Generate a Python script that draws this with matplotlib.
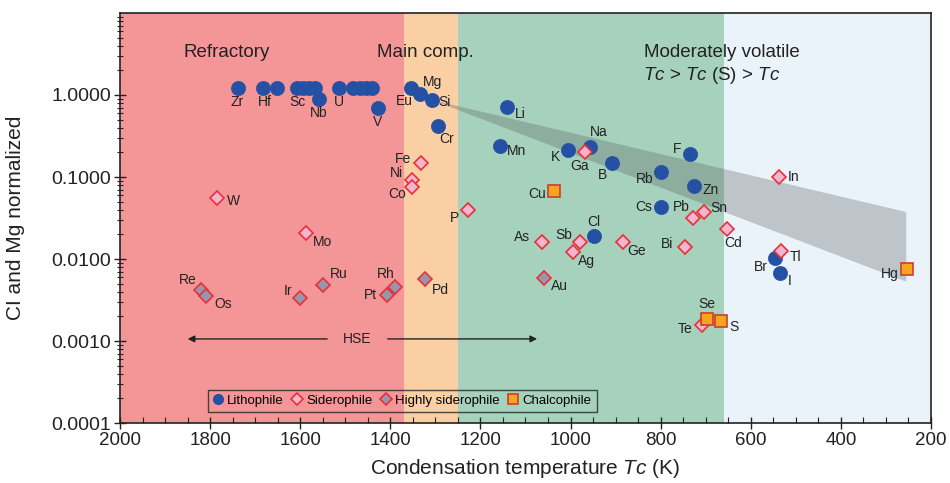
import matplotlib
matplotlib.use("Agg")
import matplotlib.pyplot as plt
from matplotlib.lines import Line2D
import numpy as np

plt.rcParams['font.family'] = ['Liberation Sans', 'DejaVu Sans']
plt.rcParams['mathtext.fontset'] = 'custom'
plt.rcParams['mathtext.it'] = 'Liberation Sans:italic'
plt.rcParams['mathtext.rm'] = 'Liberation Sans'

# ---------------- data ----------------
# Lithophile elements (blue circles)
litho_names = ['Zr', 'Hf', '', 'Sc', '', '', '', 'Nb', 'U', '', '', '', '', 'V',
               'Eu', 'Mg', 'Si', 'Cr', 'Li', 'Mn', 'K', 'Na', 'B', 'Rb', 'F', 'Zn',
               'Cs', 'Cl', 'Br', 'I']
litho_T = [1739, 1683, 1652, 1607, 1594, 1581, 1567, 1558, 1515, 1483, 1467, 1454, 1441, 1428,
           1354, 1334, 1308, 1295, 1142, 1157, 1005, 957, 907, 799, 735, 725,
           799, 947, 546, 535]
litho_v = [1.23, 1.23, 1.23, 1.23, 1.23, 1.23, 1.23, 0.894, 1.23, 1.23, 1.23, 1.23, 1.23, 0.69,
           1.23, 1.02, 0.87, 0.42, 0.72, 0.24, 0.211, 0.232, 0.149, 0.114, 0.191, 0.077,
           0.043, 0.0193, 0.0102, 0.0067]

# Siderophile elements (pink diamonds)
sidero_names = ['W', 'Mo', 'Fe', 'Ni', 'Co', 'P', 'Ga', 'As', 'Sb', 'Ag', 'Ge', 'Bi',
                'Pb', 'Sn', 'Cd', 'In', 'Tl', 'Te']
sidero_T = [1785, 1588, 1332, 1351, 1351, 1227, 968, 1064, 979, 995, 883, 746,
            728, 704, 652, 537, 532, 709]
sidero_v = [0.0548, 0.0206, 0.149, 0.0916, 0.076, 0.0393, 0.200, 0.0159, 0.0159, 0.0122, 0.0163, 0.0142,
            0.0314, 0.0375, 0.0231, 0.100, 0.0126, 0.00157]

# Highly siderophile elements (grey diamonds)
hse_names = ['Re', 'Os', 'Ir', 'Ru', 'Pt', 'Rh', 'Pd', 'Au']
hse_T = [1820, 1808, 1600, 1549, 1407, 1390, 1323, 1058]
hse_v = [0.00416, 0.0035, 0.0033, 0.0048, 0.0036, 0.0046, 0.0057, 0.0058]

# Chalcophile elements (orange squares)
chalco_names = ['Cu', 'Se', 'S', 'Hg']
chalco_T = [1037, 698, 665, 254]
chalco_v = [0.067, 0.00184, 0.00175, 0.0076]

# Temperature regions
region_edges = [2000, 1370, 1250, 660, 200]
region_colors = ['#F49598', '#FACFA3', '#A6D1BC', '#EAF3FA']
region_titles = ['Refractory', 'Main comp.', 'Moderately volatile']
region_title_T = [1763, 1321, 664]

# Volatility trend band (Tc, value)
band_T = [1308, 255, 255]
band_v = [0.87, 0.0374, 0.0053]

# HSE arrow extent
hse_arrow_T = [1856, 1068]
hse_arrow_v = 0.00106

# label offsets in pixels (dx, dy)
label_off = {
    'Zr': (0, -14), 'Hf': (2, -14), 'Sc': (0, -14), 'Nb': (0, -14), 'U': (0, -14), 'V': (0, -14),
    'Eu': (-7, -13), 'Mg': (12, 12), 'Si': (13, -2), 'Cr': (9, -13), 'Li': (14, -7),
    'Mn': (17, -5), 'K': (-13, -7), 'Na': (9, 15), 'Ga': (-5, -14), 'B': (-10, -12),
    'Rb': (-16, -7), 'F': (-13, 5), 'Zn': (16, -4), 'In': (14, 0), 'Cs': (-17, 0),
    'Pb': (-12, 11), 'Sn': (15, 4), 'Cd': (6, -14), 'Bi': (-18, 3), 'Tl': (14, -6),
    'Br': (-14, -9), 'I': (10, -8), 'Hg': (-17, -5), 'Cu': (-17, -3), 'P': (-14, -8),
    'Cl': (-1, 14), 'As': (-20, 5), 'Sb': (-16, 7), 'Ag': (14, -9), 'Ge': (13, -9),
    'Au': (15, -8), 'Se': (0, 15), 'S': (12, -6), 'Te': (-17, -4), 'W': (17, -3),
    'Mo': (17, -9), 'Re': (-13, 10), 'Os': (17, -8), 'Ir': (-12, 7), 'Ru': (16, 11),
    'Rh': (-9, 13), 'Pt': (-17, 0), 'Pd': (15, -11), 'Fe': (-18, 4), 'Ni': (-16, 7),
    'Co': (-15, -7),
}

# ---------------- styles ----------------
blue = '#2451A4'
red_edge = '#E8303A'
pink = '#F5B5CF'
grey = '#9896AA'
orange = '#F8A41F'
sq_edge = '#CC3F2A'
txt = '#222222'

fig = plt.figure(figsize=(9.5, 4.83), dpi=100)
ax = fig.add_axes([0.1263, 0.1242, 0.8537, 0.8489])

ax.set_xlim(2000, 200)
ax.set_yscale('log')
ax.set_ylim(1e-4, 10)

for i in range(len(region_colors)):
    ax.axvspan(region_edges[i], region_edges[i + 1], color=region_colors[i], zorder=0, lw=0)

ax.fill(band_T, band_v, color='#555A5E', alpha=0.3, lw=0, zorder=1)

ax.plot(litho_T, litho_v, 'o', ms=10.2, mfc=blue, mec=blue, mew=0.5, zorder=3, ls='none')
ax.plot(sidero_T, sidero_v, 'D', ms=7.4, mfc=pink, mec=red_edge, mew=1.2, zorder=4, ls='none')
ax.plot(hse_T, hse_v, 'D', ms=7.4, mfc=grey, mec=red_edge, mew=1.2, zorder=4, ls='none')
ax.plot(chalco_T, chalco_v, 's', ms=8.2, mfc=orange, mec=sq_edge, mew=1.2, zorder=5, ls='none')

for names, Ts, vs in [(litho_names, litho_T, litho_v), (sidero_names, sidero_T, sidero_v),
                      (hse_names, hse_T, hse_v), (chalco_names, chalco_T, chalco_v)]:
    for n, t, v in zip(names, Ts, vs):
        if not n:
            continue
        dx, dy = label_off.get(n, (0, -14))
        ax.annotate(n, (t, v), xytext=(dx, dy), textcoords='offset pixels',
                    ha='center', va='center', fontsize=10, color=txt, zorder=6)

# region titles
for title, t in zip(region_titles, region_title_T):
    ax.text(t, 3.32, title, ha='center', va='center', fontsize=13.5, color=txt, zorder=6)
ax.text(688, 1.72, r'$\mathit{Tc}$ > $\mathit{Tc}$ (S) > $\mathit{Tc}$', ha='center', va='center',
        fontsize=13.5, color=txt, zorder=6)

# HSE arrow
ax.annotate('', xy=(hse_arrow_T[0], hse_arrow_v), xytext=(1534, hse_arrow_v),
            arrowprops=dict(arrowstyle='-|>', color=txt, lw=1, mutation_scale=10), zorder=6)
ax.annotate('', xy=(hse_arrow_T[1], hse_arrow_v), xytext=(1412, hse_arrow_v),
            arrowprops=dict(arrowstyle='-|>', color=txt, lw=1, mutation_scale=10), zorder=6)
ax.text(1474, hse_arrow_v, 'HSE', ha='center', va='center', fontsize=10, color=txt, zorder=6)

# ticks
ax.set_xticks(np.arange(2000, 199, -200))
ax.set_xticks(np.arange(2000, 199, -50), minor=True)
ax.set_yticks([1e-4, 1e-3, 1e-2, 1e-1, 1])
ax.set_yticklabels(['0.0001', '0.0010', '0.0100', '0.1000', '1.0000'])
ax.tick_params(axis='x', which='major', direction='inout', length=9, width=1, labelsize=13.5, pad=2,
               colors=txt)
ax.tick_params(axis='x', which='minor', direction='in', length=4, width=0.8, colors=txt)
ax.tick_params(axis='y', which='major', direction='inout', length=9, width=1, labelsize=14, pad=2,
               colors=txt)
ax.tick_params(axis='y', which='minor', direction='inout', length=5, width=0.8, colors=txt)
ax.yaxis.set_minor_locator(matplotlib.ticker.LogLocator(base=10, subs=np.arange(2, 10)))
ax.yaxis.set_minor_formatter(matplotlib.ticker.NullFormatter())
for s in ax.spines.values():
    s.set_linewidth(1.2)
    s.set_color(txt)

ax.set_xlabel(r'Condensation temperature $\mathit{Tc}$ (K)', fontsize=15, labelpad=6, color=txt)
ax.set_ylabel('CI and Mg normalized', fontsize=15, color=txt)
ax.yaxis.set_label_coords(-0.117, 0.5)

# legend
handles = [
    Line2D([], [], marker='o', ls='none', ms=7, mfc=blue, mec=blue),
    Line2D([], [], marker='D', ms=6, ls='none', mfc=pink, mec=red_edge, mew=1.2),
    Line2D([], [], marker='D', ms=6, ls='none', mfc=grey, mec=red_edge, mew=1.2),
    Line2D([], [], marker='s', ms=6.5, ls='none', mfc=orange, mec=sq_edge, mew=1.2),
]
leg = ax.legend(handles, ['Lithophile', 'Siderophile', 'Highly siderophile', 'Chalcophile'],
                ncol=4, loc='lower left', bbox_to_anchor=(0.108, 0.026), borderaxespad=0,
                fontsize=9.5, handlelength=0.8, handletextpad=0.3, columnspacing=0.6,
                borderpad=0.4, frameon=True, fancybox=False)
leg.get_frame().set_facecolor('none')
leg.get_frame().set_edgecolor(txt)
leg.get_frame().set_linewidth(1)
leg.set_zorder(7)

fig.savefig('out.png', dpi=100)
